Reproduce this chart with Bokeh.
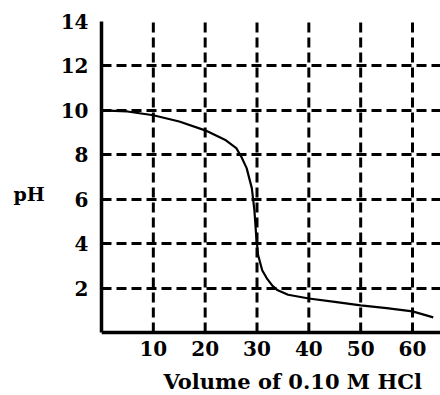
from bokeh.plotting import figure
from bokeh.models import FixedTicker, Range1d, Title
from bokeh.embed import file_html
from bokeh.resources import INLINE

vol = [0, 5, 10, 15, 20, 24, 26, 27, 28, 29, 29.5, 29.8, 30.2, 31, 32, 33, 34, 36, 40, 45, 50, 55, 60, 64]
ph = [10.0, 9.95, 9.78, 9.5, 9.1, 8.65, 8.3, 7.9, 7.4, 6.5, 5.5, 4.5, 3.5, 2.8, 2.4, 2.1, 1.9, 1.7, 1.53, 1.38, 1.22, 1.1, 0.95, 0.68]
x_ticks = [10, 20, 30, 40, 50, 60]
y_ticks = [2, 4, 6, 8, 10, 12, 14]
y_label = "pH"
x_label = "Volume of 0.10 M HCl"
y_min, y_max = 0, 14

FONT = "DejaVu Serif"

p = figure(width=440, height=395, output_backend="svg", toolbar_location=None,
           x_range=Range1d(0, 65.4), y_range=Range1d(-1.53, y_max),
           min_border_left=101, min_border_right=0, min_border_top=21, min_border_bottom=29)
p.outline_line_color = None

# vertical dashed grid lines, limited to the pH range
p.segment(x0=x_ticks, y0=[y_min] * len(x_ticks), x1=x_ticks, y1=[y_max] * len(x_ticks),
          line_color="black", line_width=3, line_dash="10 5")
p.xgrid[0].visible = False

p.line(vol, ph, line_color="black", line_width=2.2)

for ax in (p.xaxis[0], p.yaxis[0]):
    ax.axis_line_width = 3.5
    ax.axis_line_color = "black"
    ax.major_tick_in = 0
    ax.major_tick_out = 0
    ax.minor_tick_in = 0
    ax.minor_tick_out = 0
    ax.major_label_text_font = FONT
    ax.major_label_text_font_style = "bold"
    ax.major_label_text_font_size = "20px"
    ax.major_label_text_color = "black"

p.xaxis[0].ticker = FixedTicker(ticks=x_ticks)
p.xaxis[0].fixed_location = y_min
p.xaxis[0].major_label_standoff = 8
p.yaxis[0].ticker = FixedTicker(ticks=y_ticks)
p.yaxis[0].bounds = (y_min, y_max)
p.yaxis[0].major_label_standoff = 13
p.yaxis[0].axis_label = y_label
p.yaxis[0].axis_label_orientation = "horizontal"
p.yaxis[0].axis_label_standoff = 13
p.yaxis[0].axis_label_text_font = FONT
p.yaxis[0].axis_label_text_font_style = "bold"
p.yaxis[0].axis_label_text_font_size = "19px"
p.yaxis[0].axis_label_text_color = "black"

p.ygrid[0].ticker = FixedTicker(ticks=y_ticks)
g = p.ygrid[0]
g.grid_line_color = "black"
g.grid_line_width = 3
g.grid_line_dash = "10 5"
g.grid_line_alpha = 1.0

p.add_layout(Title(text=x_label, align="left", offset=62, standoff=0,
                   text_font=FONT, text_font_style="bold", text_font_size="21px",
                   text_color="black"), "below")

open("out.html", "w").write(file_html(p, INLINE))
